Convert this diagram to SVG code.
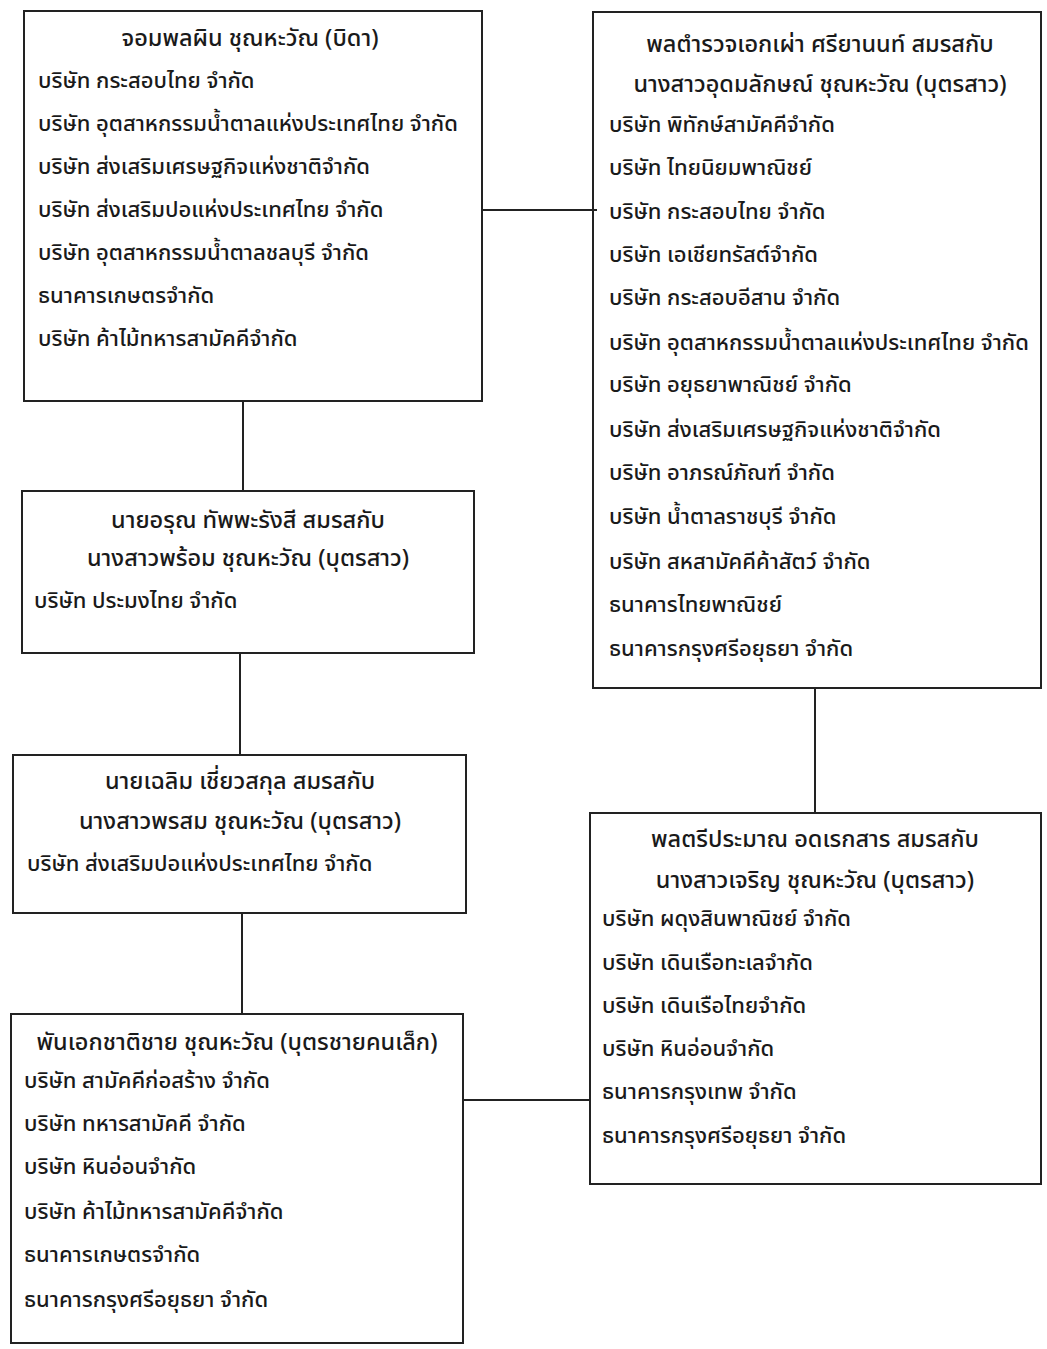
<svg xmlns="http://www.w3.org/2000/svg" width="1047" height="1349" viewBox="0 0 1047 1349">
<style>
.box{fill:none;stroke:#222;stroke-width:2}
.ln{stroke:#222;stroke-width:2;fill:none}
text{font-family:"Noto Sans Thai","Noto Sans","DejaVu Sans",sans-serif;font-size:22px;font-weight:500;fill:#1a1a1a}
.c{text-anchor:middle;font-size:23.5px}
</style>
<rect width="1047" height="1349" fill="#ffffff"/>
<g id="connectors">
<line class="ln" x1="483" y1="210" x2="597" y2="210"/>
<line class="ln" x1="243" y1="400" x2="243" y2="491"/>
<line class="ln" x1="240" y1="653" x2="240" y2="755"/>
<line class="ln" x1="242" y1="913" x2="242" y2="1014"/>
<line class="ln" x1="815" y1="688" x2="815" y2="813"/>
<line class="ln" x1="463" y1="1100" x2="590" y2="1100"/>
</g>
<g id="n1">
<rect class="box" x="24" y="11" width="458" height="390"/>
<text class="c" x="250" y="46">จอมพลผิน ชุณหะวัณ (บิดา)</text>
<text x="38" y="88">บริษัท กระสอบไทย จำกัด</text>
<text x="38" y="131">บริษัท อุตสาหกรรมน้ำตาลแห่งประเทศไทย จำกัด</text>
<text x="38" y="174">บริษัท ส่งเสริมเศรษฐกิจแห่งชาติจำกัด</text>
<text x="38" y="217">บริษัท ส่งเสริมปอแห่งประเทศไทย จำกัด</text>
<text x="38" y="260">บริษัท อุตสาหกรรมน้ำตาลชลบุรี จำกัด</text>
<text x="38" y="303">ธนาคารเกษตรจำกัด</text>
<text x="38" y="346">บริษัท ค้าไม้ทหารสามัคคีจำกัด</text>
</g>
<g id="n2">
<rect class="box" x="593" y="12" width="448" height="676"/>
<text class="c" x="820" y="52">พลตำรวจเอกเผ่า ศรียานนท์ สมรสกับ</text>
<text class="c" x="820" y="92">นางสาวอุดมลักษณ์ ชุณหะวัณ (บุตรสาว)</text>
<text x="609" y="132">บริษัท พิทักษ์สามัคคีจำกัด</text>
<text x="609" y="175">บริษัท ไทยนิยมพาณิชย์</text>
<text x="609" y="219">บริษัท กระสอบไทย จำกัด</text>
<text x="609" y="262">บริษัท เอเชียทรัสต์จำกัด</text>
<text x="609" y="305">บริษัท กระสอบอีสาน จำกัด</text>
<text x="609" y="350">บริษัท อุตสาหกรรมน้ำตาลแห่งประเทศไทย จำกัด</text>
<text x="609" y="392">บริษัท อยุธยาพาณิชย์ จำกัด</text>
<text x="609" y="437">บริษัท ส่งเสริมเศรษฐกิจแห่งชาติจำกัด</text>
<text x="609" y="480">บริษัท อาภรณ์ภัณฑ์ จำกัด</text>
<text x="609" y="524">บริษัท น้ำตาลราชบุรี จำกัด</text>
<text x="609" y="569">บริษัท สหสามัคคีค้าสัตว์ จำกัด</text>
<text x="609" y="612">ธนาคารไทยพาณิชย์</text>
<text x="609" y="656">ธนาคารกรุงศรีอยุธยา จำกัด</text>
</g>
<g id="n3">
<rect class="box" x="22" y="491" width="452" height="162"/>
<text class="c" x="248" y="528">นายอรุณ ทัพพะรังสี สมรสกับ</text>
<text class="c" x="248" y="566">นางสาวพร้อม ชุณหะวัณ (บุตรสาว)</text>
<text x="34" y="608">บริษัท ประมงไทย จำกัด</text>
</g>
<g id="n4">
<rect class="box" x="13" y="755" width="453" height="158"/>
<text class="c" x="240" y="789">นายเฉลิม เชี่ยวสกุล สมรสกับ</text>
<text class="c" x="240" y="829">นางสาวพรสม ชุณหะวัณ (บุตรสาว)</text>
<text x="27" y="871">บริษัท ส่งเสริมปอแห่งประเทศไทย จำกัด</text>
</g>
<g id="n5">
<rect class="box" x="11" y="1014" width="452" height="329"/>
<text class="c" x="237" y="1050">พันเอกชาติชาย ชุณหะวัณ (บุตรชายคนเล็ก)</text>
<text x="24" y="1088">บริษัท สามัคคีก่อสร้าง จำกัด</text>
<text x="24" y="1131">บริษัท ทหารสามัคคี จำกัด</text>
<text x="24" y="1174">บริษัท หินอ่อนจำกัด</text>
<text x="24" y="1219">บริษัท ค้าไม้ทหารสามัคคีจำกัด</text>
<text x="24" y="1262">ธนาคารเกษตรจำกัด</text>
<text x="24" y="1307">ธนาคารกรุงศรีอยุธยา จำกัด</text>
</g>
<g id="n6">
<rect class="box" x="590" y="813" width="451" height="371"/>
<text class="c" x="815" y="847">พลตรีประมาณ อดเรกสาร สมรสกับ</text>
<text class="c" x="815" y="888">นางสาวเจริญ ชุณหะวัณ (บุตรสาว)</text>
<text x="602" y="926">บริษัท ผดุงสินพาณิชย์ จำกัด</text>
<text x="602" y="970">บริษัท เดินเรือทะเลจำกัด</text>
<text x="602" y="1013">บริษัท เดินเรือไทยจำกัด</text>
<text x="602" y="1056">บริษัท หินอ่อนจำกัด</text>
<text x="602" y="1099">ธนาคารกรุงเทพ จำกัด</text>
<text x="602" y="1143">ธนาคารกรุงศรีอยุธยา จำกัด</text>
</g>
</svg>
